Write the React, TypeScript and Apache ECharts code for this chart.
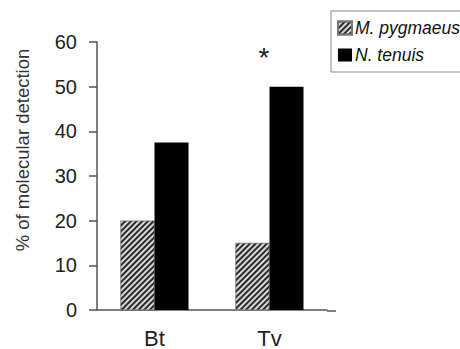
import React, { useEffect, useRef } from "react";
import * as echarts from "echarts";

const categories = ["Bt", "Tv"];
const seriesNames = ["M. pygmaeus", "N. tenuis"];
const pygmaeusValues = [20, 15];
const tenuisValues = [37.5, 50];
const yTicks = [0, 10, 20, 30, 40, 50, 60];
const yAxisTitle = "% of molecular detection";
const significanceMark = "*";

export default function App() {
  const ref = useRef<HTMLDivElement>(null);
  useEffect(() => {
    if (!ref.current) return;
    const chart = echarts.init(ref.current, null, { renderer: "svg" });
    const font = "Liberation Sans, Arial, sans-serif";
    chart.setOption({
      animation: false,
      backgroundColor: "#ffffff",
      grid: { left: 97, right: 133, top: 42, bottom: 38, containLabel: false },
      legend: {
        orient: "vertical",
        left: 331,
        top: 11,
        padding: [8, 40, 8, 6],
        itemGap: 9,
        itemWidth: 14,
        itemHeight: 13,
        borderColor: "#888",
        borderWidth: 1,
        icon: "rect",
        textStyle: { fontFamily: font, fontSize: 17.5, fontStyle: "italic", color: "#111", padding: [0, 0, 0, -2] },
        data: seriesNames,
      },
      xAxis: {
        type: "category",
        data: categories,
        axisLine: { lineStyle: { color: "#555", width: 1.5 } },
        axisTick: { show: false },
        axisLabel: { margin: 17, fontFamily: font, fontSize: 22, color: "#222" },
      },
      yAxis: {
        type: "value",
        min: yTicks[0],
        max: yTicks[yTicks.length - 1],
        interval: 10,
        splitLine: { show: false },
        axisLine: { show: true, lineStyle: { color: "#555", width: 1.5 } },
        axisTick: { show: true, length: 8, lineStyle: { color: "#555", width: 1.5 } },
        axisLabel: { margin: 20, fontFamily: font, fontSize: 20, color: "#222" },
      },
      graphic: [
        {
          type: "line",
          shape: { x1: 327, y1: 311, x2: 336, y2: 311 },
          style: { stroke: "#555", lineWidth: 1.5 },
        },
        {
          type: "text",
          x: 22,
          y: 150,
          rotation: Math.PI / 2,
          style: {
            text: yAxisTitle,
            fontFamily: font,
            fontSize: 18.5,
            fill: "#333",
            align: "center",
            verticalAlign: "middle",
          },
        },
        {
          type: "text",
          x: 264,
          y: 57,
          style: {
            text: significanceMark,
            fontFamily: font,
            fontSize: 28,
            fill: "#222",
            align: "center",
            verticalAlign: "middle",
          },
        },
      ],
      series: [
        {
          name: seriesNames[0],
          type: "bar",
          data: pygmaeusValues,
          barWidth: 34,
          barGap: "0%",
          itemStyle: {
            color: "#d8d8d8",
            borderColor: "#777",
            borderWidth: 0.5,
            decal: {
              symbol: "rect",
              symbolSize: 1,
              dashArrayX: [1, 0],
              dashArrayY: [1.3, 1.5],
              rotation: -Math.PI / 4,
              color: "#2a2a2a",
            },
          },
        },
        {
          name: seriesNames[1],
          type: "bar",
          data: tenuisValues,
          barWidth: 34,
          itemStyle: { color: "#000" },
        },
      ],
    });
    return () => chart.dispose();
  }, []);
  return <div ref={ref} style={{ width: 460, height: 349, position: "absolute", left: 0, top: 0 }} />;
}
